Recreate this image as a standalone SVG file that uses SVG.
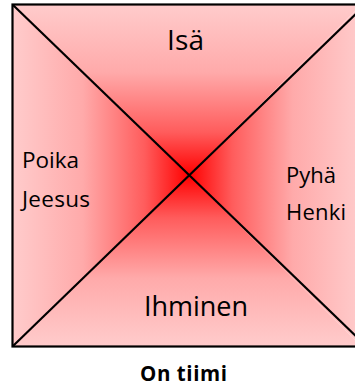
<svg xmlns="http://www.w3.org/2000/svg" width="355" height="387" viewBox="0 0 355 387">
<style>
.lbl{font-family:"Open Sans",Lato,"Liberation Sans",sans-serif;fill:#000}
.edge{stroke:#000;stroke-width:2.2;fill:none}
</style>
<defs>
<linearGradient id="gTop" gradientUnits="userSpaceOnUse" x1="0" y1="4" x2="0" y2="175">
<stop offset="0" stop-color="#ffcccc"/><stop offset="0.4" stop-color="#ffaaaa"/><stop offset="0.75" stop-color="#ff5c5c"/><stop offset="1" stop-color="#ff0000"/>
</linearGradient>
<linearGradient id="gBot" gradientUnits="userSpaceOnUse" x1="0" y1="347" x2="0" y2="175">
<stop offset="0" stop-color="#ffcccc"/><stop offset="0.4" stop-color="#ffaaaa"/><stop offset="0.75" stop-color="#ff5c5c"/><stop offset="1" stop-color="#ff0000"/>
</linearGradient>
<linearGradient id="gLeft" gradientUnits="userSpaceOnUse" x1="12" y1="0" x2="189" y2="0">
<stop offset="0" stop-color="#ffcccc"/><stop offset="0.4" stop-color="#ffaaaa"/><stop offset="0.75" stop-color="#ff5c5c"/><stop offset="1" stop-color="#ff0000"/>
</linearGradient>
<linearGradient id="gRight" gradientUnits="userSpaceOnUse" x1="362" y1="0" x2="189" y2="0">
<stop offset="0" stop-color="#ffcccc"/><stop offset="0.4" stop-color="#ffaaaa"/><stop offset="0.75" stop-color="#ff5c5c"/><stop offset="1" stop-color="#ff0000"/>
</linearGradient>
</defs>
<g id="square">
<polygon points="12,4 362,4 189,175" fill="url(#gTop)"/>
<polygon points="12,347 362,347 189,175" fill="url(#gBot)"/>
<polygon points="12,4 12,347 189,175" fill="url(#gLeft)"/>
<polygon points="362,4 362,347 189,175" fill="url(#gRight)"/>
<rect x="12.5" y="4.5" width="350" height="342" class="edge"/>
</g>
<g id="connectors">
<line x1="13" y1="5" x2="362" y2="342" class="edge"/>
<line x1="13" y1="346" x2="362" y2="8" class="edge"/>
</g>
<g id="node-isa"><text class="lbl" x="167" y="50" font-size="28" textLength="37">Isä</text></g>
<g id="node-poika"><text class="lbl" x="22" y="167.5" font-size="22.5" textLength="57">Poika</text><text class="lbl" x="22" y="206.5" font-size="22.5" textLength="68">Jeesus</text></g>
<g id="node-pyha"><text class="lbl" x="286" y="182.5" font-size="22" textLength="50">Pyhä</text><text class="lbl" x="286" y="220" font-size="22" textLength="60">Henki</text></g>
<g id="node-ihminen"><text class="lbl" x="144" y="316" font-size="27" textLength="104">Ihminen</text></g>
<g id="caption"><text class="lbl" x="140" y="380.5" font-size="20.5" font-weight="bold" textLength="87">On tiimi</text></g>
</svg>
